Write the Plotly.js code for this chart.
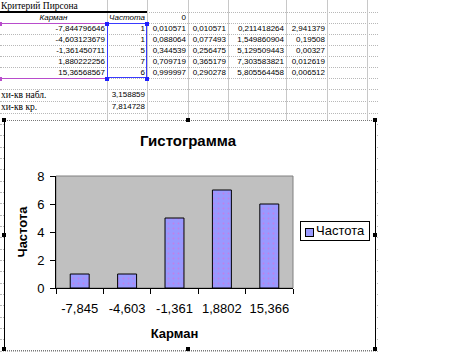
<!DOCTYPE html>
<html>
<head>
<meta charset="utf-8">
<script src="https://cdn.plot.ly/plotly-3.0.1.min.js"></script>
<style>
  html, body { margin:0; padding:0; background:#fff; }
  body { width:454px; height:352px; position:relative; overflow:hidden; }
  .c { position:absolute; white-space:nowrap; font-family:"Liberation Sans", Arial, sans-serif; font-size:8px; color:#000; }
  .serif { font-family:"Liberation Serif", "Times New Roman", serif; font-size:9.5px; }
  .it { font-style:italic; }
  .hl { position:absolute; height:0; border-top:1px dotted #b8b8b8; }
  .vl { position:absolute; width:1px; background:#c8c8c8; }
  .h { position:absolute; width:4px; height:4px; background:#000; }
</style>
</head>
<body>
<div id="sheet"></div>
<div id="frame" style="position:absolute; left:4px; top:120px; width:370px; height:229px; background:#fff; border-left:1px solid #000; border-right:1px solid #000; border-top:1px dotted #777; border-bottom:1px dotted #777;"></div>
<div id="chart" style="position:absolute; left:5px; top:121px; width:370px; height:231px;"></div>
<div id="legend" style="position:absolute; left:300px; top:221px; width:70px; height:20px; background:#fff; border:1px solid #000; box-sizing:border-box;">
  <div id="legsym" style="position:absolute; left:4px; top:6px; width:7px; height:7px; background:#9999ff; border:1px solid #000;"></div>
  <div id="legtxt" style="position:absolute; left:15px; top:0px; line-height:18px; font-family:'Liberation Sans', Arial, sans-serif; font-size:13px; color:#000; white-space:nowrap;"></div>
</div>
<div id="handles"></div>
<script>
// ---------- data ----------
const sheetTitle = "Критерий Пирсона";
const headKarman = "Карман";
const headFreq = "Частота";
const headZero = 0;
const karmanValues = [-7.844796646, -4.603123679, -1.361450711, 1.880222256, 15.36568567];
const frequencies = [1, 1, 5, 7, 6];
const colC = [0.010571, 0.088064, 0.344539, 0.709719, 0.999997];
const colD = [0.010571, 0.077493, 0.256475, 0.365179, 0.290278];
const colE = [0.211418264, 1.549860904, 5.129509443, 7.303583821, 5.805564458];
const colF = [2.941379, 0.19508, 0.00327, 0.012619, 0.006512];
const chiLabels = ["хи-кв набл.", "хи-кв кр."];
const chiValues = [3.158859, 7.814728];
const binLabels = ["-7,845", "-4,603", "-1,361", "1,8802", "15,366"];
const chartTitle = "Гистограмма";
const xTitle = "Карман";
const yTitle = "Частота";

// ---------- spreadsheet ----------
const colX = [0, 107, 147, 188, 228, 286, 327, 367, 378];
const rowY = [0, 12, 23, 34, 45, 56, 67, 78, 89, 101, 113, 124, 135, 147, 158, 169, 181, 192, 203, 215, 226, 237, 249, 260, 271, 283, 294, 305, 317, 328, 339, 351];
const sheet = document.getElementById('sheet');
const fmt = v => String(v).replace('.', ',');
function add(html){ sheet.insertAdjacentHTML('beforeend', html); }
// grid
for (let i = 1; i < rowY.length; i++) {
  add(`<div class="hl" style="left:0; top:${rowY[i]}px; width:${colX[colX.length-1]}px;"></div>`);
}
for (let j = 1; j < colX.length - 1; j++) {
  add(`<div class="vl" style="left:${colX[j]}px; top:0; height:352px;"></div>`);
}
function cell(text, c, r, align, cls) {
  const x0 = colX[c], x1 = colX[c+1], y0 = rowY[r], h = rowY[r+1] - rowY[r];
  let st;
  if (align === 'right') st = `right:${454 - x1 + 2}px;`;
  else if (align === 'center') st = `left:${x0}px; width:${x1 - x0}px; text-align:center;`;
  else st = `left:${x0 + 1}px;`;
  add(`<div class="c ${cls||''}" style="${st} top:${y0}px; height:${h}px; line-height:${h}px;">${text}</div>`);
}
cell(sheetTitle, 0, 0, 'left', 'serif');
cell(headKarman, 0, 1, 'center', 'it');
cell(headFreq, 1, 1, 'center', 'it');
cell(fmt(headZero), 2, 1, 'right');
for (let i = 0; i < karmanValues.length; i++) {
  const r = i + 2;
  cell(fmt(karmanValues[i]), 0, r, 'right');
  cell(fmt(frequencies[i]), 1, r, 'right');
  cell(fmt(colC[i]), 2, r, 'right');
  cell(fmt(colD[i]), 3, r, 'right');
  cell(fmt(colE[i]), 4, r, 'right');
  cell(fmt(colF[i]), 5, r, 'right');
}
for (let i = 0; i < chiLabels.length; i++) {
  cell(chiLabels[i], 0, 8 + i, 'left', 'serif');
  cell(fmt(chiValues[i]), 1, 8 + i, 'right');
}
// header underline and selection borders
add(`<div style="position:absolute; left:0; top:11px; width:147px; height:2px; background:#000;"></div>`);
const selTop = rowY[2], selBot = rowY[7];
add(`<div style="position:absolute; left:0; top:${selTop}px; width:107px; height:1px; background:#b84ccc;"></div>`);
add(`<div style="position:absolute; left:0; top:${selBot}px; width:107px; height:1px; background:#b84ccc;"></div>`);
add(`<div style="position:absolute; left:107px; top:${selTop}px; width:40px; height:${selBot-selTop}px; border:1px solid #3a3aff; box-sizing:border-box;"></div>`);
[[0,selTop,'#b84ccc'],[0,selBot,'#b84ccc'],[107,selTop,'#2020ff'],[147,selTop,'#2020ff'],[107,selBot,'#2020ff'],[147,selBot,'#2020ff']].forEach(p=>{
  add(`<div style="position:absolute; left:${p[0]-2}px; top:${p[1]-1}px; width:4px; height:4px; background:${p[2]};"></div>`);
});

// chart frame handles
const hd = document.getElementById('handles');
[[4,120],[188,120],[375,120],[4,235],[375,235],[4,349],[188,349],[375,349]].forEach(p=>{
  hd.insertAdjacentHTML('beforeend', `<div class="h" style="left:${p[0]-2}px; top:${p[1]-2}px;"></div>`);
});

// ---------- chart ----------
document.getElementById('legtxt').textContent = headFreq;
const trace = {
  type: 'bar',
  name: headFreq,
  x: binLabels,
  y: frequencies,
  marker: {
    color: '#9999ff',
    line: { color: '#000', width: 1 },
    pattern: { shape: '.', fgcolor: '#c080e8', bgcolor: '#9999ff', size: 5, solidity: 0.12 }
  }
};
const layout = {
  width: 370, height: 231,
  margin: { l: 51, r: 82, t: 55, b: 64, pad: 0 },
  paper_bgcolor: 'rgba(0,0,0,0)',
  plot_bgcolor: '#c0c0c0',
  font: { family: 'Liberation Sans, Arial, sans-serif', size: 13, color: '#000' },
  title: { text: chartTitle, font: { size: 15, weight: 'bold', color: '#000' },
           xref: 'container', x: (188 - 5) / 370, xanchor: 'center',
           yref: 'container', y: 1 - (140.5 - 121) / 231, yanchor: 'middle' },
  showlegend: false,
  bargap: 0.6,
  xaxis: {
    type: 'category',
    title: { text: xTitle, font: { size: 13, weight: 'bold' }, standoff: 14 },
    tickangle: 0, ticklabelstandoff: 8,
    ticks: 'outside', ticklen: 5, tickcolor: '#000', tickwidth: 1, tickson: 'boundaries',
    showline: true, linecolor: '#000', linewidth: 1,
    showgrid: false, zeroline: false, automargin: false, fixedrange: true
  },
  yaxis: {
    range: [0, 8], dtick: 2, tick0: 0,
    title: { text: yTitle, font: { size: 13, weight: 'bold' }, standoff: 6 },
    ticklabelstandoff: 3,
    ticks: 'outside', ticklen: 5, tickcolor: '#000', tickwidth: 1,
    showline: true, linecolor: '#000', linewidth: 1,
    showgrid: false, zeroline: false, automargin: false, fixedrange: true
  },
  shapes: [{ type: 'rect', xref: 'paper', yref: 'paper', x0: 0, x1: 1, y0: 0, y1: 1,
             line: { color: '#808080', width: 1 }, layer: 'below' }]
};
Plotly.newPlot('chart', [trace], layout, { displayModeBar: false, staticPlot: true });
</script>
</body>
</html>
